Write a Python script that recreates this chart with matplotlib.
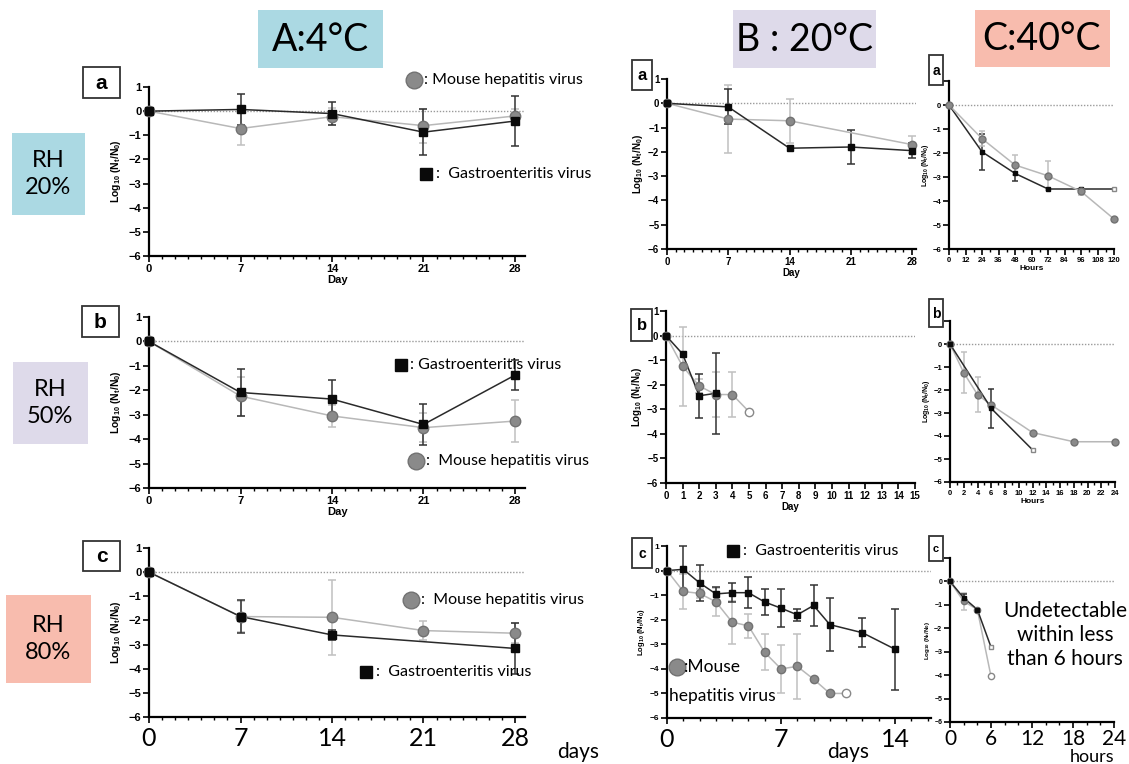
import matplotlib
matplotlib.use('Agg')
import matplotlib.pyplot as plt
from matplotlib.lines import Line2D
from matplotlib.patches import Rectangle

plt.rcParams['font.family'] = ['Liberation Sans', 'DejaVu Sans']
plt.rcParams['mathtext.fontset'] = 'custom'
plt.rcParams['mathtext.bf'] = 'Liberation Sans:bold'
plt.rcParams['mathtext.rm'] = 'Liberation Sans'
plt.rcParams['mathtext.default'] = 'bf'

# ---------------- data ----------------
A_days = [0, 7, 14, 21, 28]
Aa_gastro = [0, 0.07, -0.10, -0.87, -0.41]
Aa_gastro_err = [0, 0.65, 0.48, 0.95, 1.05]
Aa_mouse = [0, -0.72, -0.23, -0.60, -0.20]
Aa_mouse_err = [0, 0.70, 0.35, 0.70, 0.30]

Ab_gastro = [0, -2.09, -2.36, -3.40, -1.38]
Ab_gastro_err = [0, 0.95, 0.80, 0.85, 0.60]
Ab_mouse = [0, -2.24, -3.05, -3.53, -3.26]
Ab_mouse_err = [0, 0.80, 0.45, 0.60, 0.85]

Ac_gastro_days = [0, 7, 14, 28]
Ac_gastro = [0, -1.84, -2.60, -3.16]
Ac_gastro_err = [0, 0.68, 0.20, 1.05]
Ac_mouse = [0, -1.84, -1.87, -2.42, -2.53]
Ac_mouse_err = [0, 0.65, 1.55, 0.40, 0.42]

Ba_gastro_days = [0, 7, 14, 21, 28]
Ba_gastro = [0, -0.15, -1.85, -1.80, -1.95]
Ba_gastro_err = [0, 0.72, 0, 0.70, 0.30]
Ba_mouse_days = [0, 7, 14, 28]
Ba_mouse = [0, -0.65, -0.72, -1.70]
Ba_mouse_err = [0, 1.40, 0.90, 0.35]

Bb_gastro_days = [0, 1, 2, 3]
Bb_gastro = [0, -0.75, -2.45, -2.35]
Bb_gastro_err = [0, 0, 0.90, 1.65]
Bb_mouse_days = [0, 1, 2, 3, 4, 5]
Bb_mouse = [0, -1.25, -2.05, -2.40, -2.40, -3.10]
Bb_mouse_err = [0, 1.60, 0.30, 0.90, 0.90, 0]

Bc_gastro_days = [0, 1, 2, 3, 4, 5, 6, 7, 8, 9, 10, 12, 14]
Bc_gastro = [0, 0.05, -0.50, -0.95, -0.90, -0.90, -1.28, -1.53, -1.80, -1.42, -2.20, -2.53, -3.20]
Bc_gastro_err = [0, 0.95, 0.72, 0.30, 0.38, 0.63, 0.52, 0.78, 0.25, 0.85, 1.07, 0.58, 1.65]
Bc_mouse_days = [0, 1, 2, 3, 4, 5, 6, 7, 8, 9, 10, 11]
Bc_mouse = [0, -0.85, -0.93, -1.27, -2.10, -2.25, -3.33, -4.00, -3.90, -4.42, -5.00, -5.00]
Bc_mouse_err = [0, 0.72, 0.20, 0.58, 0.88, 0.48, 0.73, 0.97, 1.32, 0, 0, 0]

Ca_hours = [0, 24, 48, 72, 96, 120]
Ca_gastro = [0, -1.95, -2.85, -3.50, -3.50, -3.50]
Ca_gastro_err = [0, 0.75, 0.30, 0, 0, 0]
Ca_mouse = [0, -1.40, -2.50, -2.95, -3.60, -4.75]
Ca_mouse_err = [0, 0.30, 0.40, 0.60, 0.15, 0]

Cb_gastro_hours = [0, 6, 12]
Cb_gastro = [0, -2.80, -4.60]
Cb_gastro_err = [0, 0.85, 0]
Cb_mouse_hours = [0, 2, 4, 6, 12, 18, 24]
Cb_mouse = [0, -1.25, -2.20, -2.65, -3.85, -4.25, -4.25]
Cb_mouse_err = [0, 0.90, 0.75, 0, 0, 0, 0]

Cc_hours = [0, 2, 4, 6]
Cc_gastro = [0, -0.70, -1.20, -2.80]
Cc_gastro_err = [0, 0.15, 0, 0]
Cc_mouse = [0, -0.85, -1.20, -4.05]
Cc_mouse_err = [0, 0.35, 0, 0]

LEG_MOUSE = 'Mouse hepatitis virus'
LEG_GASTRO = 'Gastroenteritis virus'

# ---------------- figure ----------------
W, H = 1129, 764
fig = plt.figure(figsize=(W / 100, H / 100), dpi=100)
LEGFONT = ['Lato', 'DejaVu Sans']

GLINE, GMARK, GERR = '#2a2a2a', '#0a0a0a', '#333333'
MLINE, MFACE, MEDGE, MERR = '#b8b8b8', '#8a8a8a', '#727272', '#c0c0c0'
YLAB = r'Log$_{10}$ (N$_t$/N$_0$)'


def txt(x, y, s, **kw):
    return fig.text(x / W, 1 - y / H, s, **kw)


def box(x0, y0, x1, y1, **kw):
    fig.add_artist(Rectangle((x0 / W, 1 - y1 / H), (x1 - x0) / W, (y1 - y0) / H,
                             transform=fig.transFigure, **kw))


def fmark(x, y, marker, ms, fc, ec):
    fig.add_artist(Line2D([x / W], [1 - y / H], marker=marker, ms=ms, mfc=fc, mec=ec,
                          transform=fig.transFigure, ls='none'))


def make_ax(x0, xend, ytop, ybot, xmax, lab_fs, ylab_fs, ylab_pad=2):
    ax = fig.add_axes([x0 / W, 1 - ybot / H, (xend - x0) / W, (ybot - ytop) / H])
    ax.set_xlim(0, xmax)
    ax.set_ylim(-6, 1)
    ax.patch.set_alpha(0)
    for s in ['top', 'right']:
        ax.spines[s].set_visible(False)
    for s in ['left', 'bottom']:
        ax.spines[s].set_linewidth(1.6)
    ax.set_yticks(range(-6, 2))
    ax.tick_params(direction='out', width=1.2, length=4, labelsize=lab_fs, pad=1.5)
    ax.tick_params(which='minor', direction='out', width=1.0, length=2.5)
    for t in ax.get_yticklabels():
        t.set_fontweight('bold')
    ax.axhline(0, color='#9a9a9a', ls=(0, (1, 1.2)), lw=1.0, zorder=0)
    ax.set_ylabel(YLAB, fontsize=ylab_fs, fontweight='bold', labelpad=ylab_pad)
    return ax


def series(ax, x, y, err, kind, ms, open_last=False, cap=3):
    if kind == 'g':
        lc, fc, ec, erc, mk = GLINE, GMARK, GMARK, GERR, 's'
    else:
        lc, fc, ec, erc, mk = MLINE, MFACE, MEDGE, MERR, 'o'
    ax.plot(x, y, color=lc, lw=1.1, zorder=2, clip_on=False)
    for xi, yi, ei in zip(x, y, err):
        if ei > 0:
            ax.errorbar([xi], [yi], yerr=[ei], fmt='none', ecolor=erc, elinewidth=1.1,
                        capsize=cap, capthick=1.1, zorder=1, clip_on=False)
    n = len(x) - 1 if open_last else len(x)
    ax.plot(x[:n], y[:n], ls='none', marker=mk, ms=ms, mfc=fc, mec=ec, zorder=3, clip_on=False)
    if open_last:
        ax.plot(x[-1:], y[-1:], ls='none', marker=mk, ms=ms, mfc='white', mec='#888888',
                mew=1.0, zorder=3, clip_on=False)


def bold_x(ax):
    for t in ax.get_xticklabels():
        t.set_fontweight('bold')


# ---------- title boxes ----------
C_BLUE, C_LAV, C_SAL = '#abd9e3', '#dedaea', '#f8bcae'
box(258, 10, 383, 68, fc=C_BLUE, ec='none')
txt(320, 40, 'A:4°C', fontsize=27, ha='center', va='center', family=LEGFONT)
box(733, 10, 876, 68, fc=C_LAV, ec='none')
txt(805, 40, 'B : 20°C', fontsize=27, ha='center', va='center', family=LEGFONT)
box(975, 10, 1110, 67, fc=C_SAL, ec='none')
txt(1042, 39, 'C:40°C', fontsize=27, ha='center', va='center', family=LEGFONT)

box(12, 133, 85, 215, fc=C_BLUE, ec='none')
txt(48, 174, 'RH\n20%', fontsize=17, ha='center', va='center', family=LEGFONT, linespacing=1.3)
box(13, 362, 88, 444, fc=C_LAV, ec='none')
txt(50, 403, 'RH\n50%', fontsize=17, ha='center', va='center', family=LEGFONT, linespacing=1.3)
box(6, 595, 91, 683, fc=C_SAL, ec='none')
txt(48, 639, 'RH\n80%', fontsize=17, ha='center', va='center', family=LEGFONT, linespacing=1.3)

# ---------- panel letter boxes ----------
for (x0, y0, x1, y1, s, fs) in [(83, 67, 120, 98, 'a', 15), (82, 306, 119, 337, 'b', 15),
                                (83, 541, 120, 571, 'c', 15),
                                (632, 60, 652, 90, 'a', 12), (631, 309, 652, 341, 'b', 12),
                                (632, 538, 652, 568, 'c', 10),
                                (929, 55, 943, 85, 'a', 10), (929, 299, 943, 327, 'b', 10),
                                (929, 536, 943, 561, 'c', 8)]:
    box(x0, y0, x1, y1, fc='white', ec='#333333', lw=1.3)
    txt((x0 + x1) / 2, (y0 + y1) / 2 + 1, s, fontsize=fs, fontweight='bold', ha='center', va='center')

# ---------- A column ----------
A_X0, A_X28 = 149, 515
A_XMAX = 28.8
A_XEND = A_X0 + (A_X28 - A_X0) / 28 * A_XMAX

for (ytop, ybot, g, ge, m, me, gd, big) in [
        (87, 256, Aa_gastro, Aa_gastro_err, Aa_mouse, Aa_mouse_err, A_days, False),
        (317, 488, Ab_gastro, Ab_gastro_err, Ab_mouse, Ab_mouse_err, A_days, False),
        (548, 717, Ac_gastro, Ac_gastro_err, Ac_mouse, Ac_mouse_err, Ac_gastro_days, True)]:
    ax = make_ax(A_X0, A_XEND, ytop, ybot, A_XMAX, 8, 7.5, 4)
    ax.set_xticks(A_days)
    ax.set_xticks(range(0, 29), minor=True)
    if big:
        ax.tick_params(axis='x', labelsize=18, pad=3)
        for t in ax.get_xticklabels():
            t.set_family(LEGFONT)
    else:
        bold_x(ax)
        ax.set_xlabel('Day', fontsize=8, fontweight='bold', labelpad=1)
    series(ax, A_days, m, me, 'm', 7.5)
    series(ax, gd, g, ge, 'g', 5.5)

txt(578, 752, 'days', fontsize=15, ha='center', va='center', family=LEGFONT)

# A legends
fmark(414, 80, 'o', 12, MFACE, MEDGE)
txt(424, 80, ': ' + LEG_MOUSE, fontsize=11.5, va='center', family=LEGFONT)
fmark(426, 174, 's', 9, GMARK, GMARK)
txt(436, 174, ':  ' + LEG_GASTRO, fontsize=11.5, va='center', family=LEGFONT)

fmark(401, 365, 's', 9, GMARK, GMARK)
txt(410, 365, ': ' + LEG_GASTRO, fontsize=11.5, va='center', family=LEGFONT)
fmark(416, 461, 'o', 12, MFACE, MEDGE)
txt(426, 461, ':  ' + LEG_MOUSE, fontsize=11.5, va='center', family=LEGFONT)

fmark(411, 600, 'o', 12, MFACE, MEDGE)
txt(421, 600, ':  ' + LEG_MOUSE, fontsize=11.5, va='center', family=LEGFONT)
fmark(366, 672, 's', 9, GMARK, GMARK)
txt(376, 672, ':  ' + LEG_GASTRO, fontsize=11.5, va='center', family=LEGFONT)

# ---------- B column ----------
# a
ax = make_ax(667, 916, 79, 249, 28 * (916 - 667) / (912 - 667), 7, 7, 2)
ax.set_xticks([0, 7, 14, 21, 28])
ax.set_xticks(range(0, 29), minor=True)
bold_x(ax)
ax.set_xlabel('Day', fontsize=7, fontweight='bold', labelpad=1)
series(ax, Ba_mouse_days, Ba_mouse, Ba_mouse_err, 'm', 6)
series(ax, Ba_gastro_days, Ba_gastro, Ba_gastro_err, 'g', 4.5)

# b
ax = make_ax(666, 915, 311, 483, 15, 7, 7, 2)
ax.set_xticks(range(0, 16))
bold_x(ax)
ax.set_xlabel('Day', fontsize=7, fontweight='bold', labelpad=1)
series(ax, Bb_mouse_days, Bb_mouse, Bb_mouse_err, 'm', 6, open_last=True)
series(ax, Bb_gastro_days, Bb_gastro, Bb_gastro_err, 'g', 4.5)

# c
ax = make_ax(667, 931, 546, 718, 14 * (931 - 667) / (895 - 667), 6, 5.5, 2)
ax.set_xticks([0, 7, 14])
ax.set_xticks(range(0, 17), minor=True)
ax.tick_params(axis='x', labelsize=18, pad=3)
for t in ax.get_xticklabels():
    t.set_family(LEGFONT)
    t.set_fontweight('normal')
series(ax, Bc_mouse_days, Bc_mouse, Bc_mouse_err, 'm', 6, open_last=True)
series(ax, Bc_gastro_days, Bc_gastro, Bc_gastro_err, 'g', 4.5)
txt(848, 752, 'days', fontsize=15, ha='center', va='center', family=LEGFONT)

fmark(733, 551, 's', 9, GMARK, GMARK)
txt(743, 551, ':  ' + LEG_GASTRO, fontsize=11.5, va='center', family=LEGFONT)
fmark(677, 667, 'o', 12, MFACE, MEDGE)
txt(684, 667, ':Mouse', fontsize=12.5, va='center', family=LEGFONT)
txt(669, 696, 'hepatitis virus', fontsize=12.5, va='center', family=LEGFONT)

# ---------- C column ----------
# a
ax = make_ax(949, 1114, 81, 249, 120, 5.5, 5, 1.5)
ax.set_xticks(range(0, 121, 12))
ax.set_xticks(range(0, 121, 6), minor=True)
bold_x(ax)
ax.set_xlabel('Hours', fontsize=6, fontweight='bold', labelpad=1)
series(ax, Ca_hours, Ca_gastro, Ca_gastro_err, 'g', 3.5, open_last=True, cap=2)
series(ax, Ca_hours, Ca_mouse, Ca_mouse_err, 'm', 5, cap=2)

# b
ax = make_ax(950, 1115, 321, 482, 24, 5.5, 5, 1.5)
ax.set_xticks(range(0, 25, 2))
ax.set_xticks(range(0, 25, 1), minor=True)
bold_x(ax)
ax.set_xlabel('Hours', fontsize=6, fontweight='bold', labelpad=1)
series(ax, Cb_mouse_hours, Cb_mouse, Cb_mouse_err, 'm', 5, cap=2)
series(ax, Cb_gastro_hours, Cb_gastro, Cb_gastro_err, 'g', 3.5, open_last=True, cap=2)

# c
ax = make_ax(950, 1114, 558, 722, 24, 5, 4.5, 1.5)
ax.set_xticks([0, 6, 12, 18, 24])
ax.set_xticks(range(0, 25, 2), minor=True)
ax.tick_params(axis='x', labelsize=15, pad=1)
for t in ax.get_xticklabels():
    t.set_family(LEGFONT)
    t.set_fontweight('normal')
series(ax, Cc_hours, Cc_mouse, Cc_mouse_err, 'm', 4.5, open_last=True, cap=2)
series(ax, Cc_hours, Cc_gastro, Cc_gastro_err, 'g', 3.5, open_last=True, cap=2)
txt(1092, 757, 'hours', fontsize=13, ha='center', va='center', family=LEGFONT)
txt(1065, 635, 'Undetectable\nwithin less\nthan 6 hours', fontsize=15, ha='center', va='center',
    family=LEGFONT, linespacing=1.25)

fig.savefig('out.png', dpi=100)
